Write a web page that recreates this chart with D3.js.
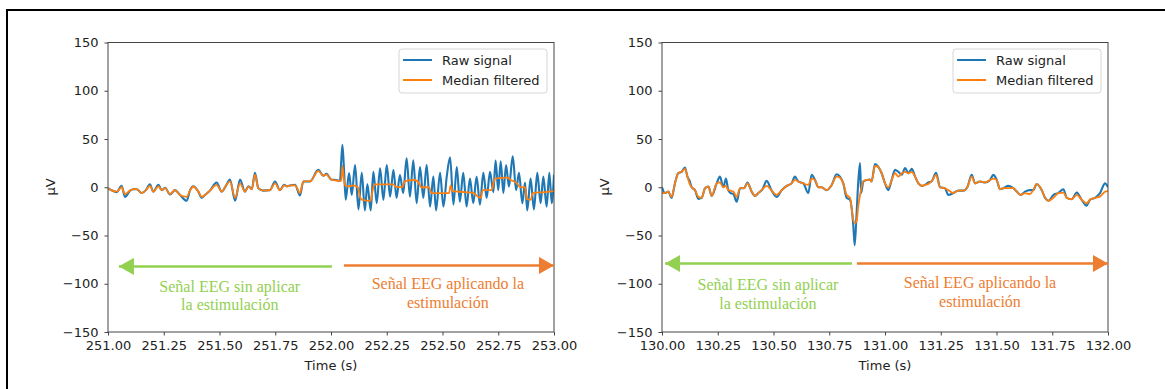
<!DOCTYPE html>
<html>
<head>
<meta charset="utf-8">
<script src="https://cdn.jsdelivr.net/npm/d3@7"></script>
<style>
  body { margin: 0; background: #fff; }
  svg { display: block; }
</style>
</head>
<body>
<div id="vis-tag"></div>
<script>
// ---- data ----
const yTicks = [-150, -100, -50, 0, 50, 100, 150];
const leftTicks = [251.00, 251.25, 251.50, 251.75, 252.00, 252.25, 252.50, 252.75, 253.00];
const rightTicks = [130.00, 130.25, 130.50, 130.75, 131.00, 131.25, 131.50, 131.75, 132.00];
const seriesNames = ["Raw signal", "Median filtered"];

// left panel, before stimulation (raw and filtered share the times)
const leftPreT = [251.000, 251.015, 251.039, 251.061, 251.076, 251.099, 251.115, 251.129, 251.151, 251.170,
  251.188, 251.203, 251.226, 251.241, 251.256, 251.278, 251.300, 251.323, 251.353, 251.368,
  251.383, 251.405, 251.420, 251.435, 251.457, 251.487, 251.510, 251.530, 251.547, 251.570,
  251.592, 251.614, 251.630, 251.645, 251.659, 251.674, 251.697, 251.726, 251.749, 251.771,
  251.790, 251.801, 251.820, 251.839, 251.861, 251.876, 251.906, 251.943, 251.965, 251.980,
  252.001, 252.024, 252.040];
const leftRawPreV = [-1, -3, -5, 1.5, -10, -3.5, -2, -2, -6, -3,
  3, -4.5, 2.5, -3, -0.5, -7.5, -3, -8, -14, -3,
  1, -4.5, -11, -8, -3.5, 5, -4.5, 2, 8, -14,
  8, -4.5, 1, -2, 15, -1, -3.5, -3, 6, -3,
  2.5, 1, 2, 2.5, -8.5, 6, 6, 18, 12, 14,
  8, 7.5, 6.5];
const leftMedPreV = [-1, -3, -4.5, 0, -7, -3.5, -2, -2, -6, -3,
  1.5, -4.5, 1, -3, -1, -7, -3, -8, -10, -3,
  0.5, -4.5, -10, -8, -3.5, 2.5, -4.5, 2, 6, -11,
  4, -4.5, 0.7, -2, 13, -1, -3.5, -3, 4, -3,
  2, 1, 2, 2, -6, 6, 6, 17, 12, 13,
  8, 7, 6.5];

// left panel, with stimulation
const leftRawPostT = [252.051, 252.058, 252.066, 252.081, 252.093, 252.108, 252.123, 252.138, 252.152, 252.163,
  252.178, 252.190, 252.205, 252.220, 252.235, 252.250, 252.265, 252.280, 252.294, 252.309,
  252.324, 252.339, 252.354, 252.369, 252.384, 252.399, 252.414, 252.429, 252.444, 252.459,
  252.471, 252.489, 252.504, 252.519, 252.534, 252.549, 252.564, 252.578, 252.593, 252.608,
  252.623, 252.638, 252.653, 252.668, 252.683, 252.698, 252.713, 252.728, 252.738, 252.750,
  252.761, 252.773, 252.785, 252.798, 252.815, 252.830, 252.843, 252.858, 252.870, 252.880,
  252.895, 252.910, 252.925, 252.940, 252.952, 252.967, 252.979, 252.990, 253.000];
const leftRawPostV = [44, 20, -13, 14.7, -8, 23, -23, 15, -24, 3.4,
  -24, 16, -16.5, 19.6, -13, 23, -9.7, 18, -11, 12.7,
  -6, 30, -9.7, 28, -16.5, 21, -11, 23, -20, 11,
  -24, 15, -20, 11, 31, -18, 21, -15, 15, -20,
  9, -16.5, 11, -18, 15, -11, 16, -5, 27.6, -3,
  27, -6, 23, 0.6, 32, -3, 15, -16.5, 5, -24,
  9, -23, 15, -16.5, 11, -20, 15, -16.5, 13];
const leftMedPostT = [252.046, 252.051, 252.058, 252.066, 252.080, 252.100, 252.120, 252.130, 252.140, 252.178,
  252.186, 252.195, 252.280, 252.290, 252.320, 252.330, 252.375, 252.395, 252.405, 252.440,
  252.450, 252.530, 252.536, 252.545, 252.600, 252.640, 252.660, 252.672, 252.680, 252.720,
  252.735, 252.790, 252.810, 252.830, 252.850, 252.870, 252.878, 252.895, 252.905, 252.960,
  253.000];
const leftMedPostV = [7, 22, 8, 1, 1, 2, 0, -10, -13, -14,
  -4, 3, 3, 0.5, 0, 6, 7.5, 4, 0, 0,
  -6, -6, 2, -4, -5, -6, -10, -11, -3, -3,
  9, 10, 7, 5, 0, 0, -12, -13, -6, -5,
  -4];

// right panel (raw and filtered share the times)
const rightT = [130.000, 130.0135, 130.028, 130.043, 130.058, 130.073, 130.088, 130.103, 130.114, 130.123,
  130.133, 130.148, 130.163, 130.178, 130.193, 130.208, 130.223, 130.245, 130.260, 130.275,
  130.287, 130.297, 130.308, 130.320, 130.335, 130.350, 130.368, 130.383, 130.402, 130.417,
  130.432, 130.451, 130.469, 130.492, 130.514, 130.537, 130.559, 130.581, 130.596, 130.611,
  130.634, 130.656, 130.671, 130.686, 130.701, 130.716, 130.738, 130.761, 130.783, 130.798,
  130.813, 130.828, 130.843, 130.858, 130.864, 130.872, 130.880, 130.888, 130.893, 130.903,
  130.918, 130.933, 130.940, 130.955, 130.970, 130.985, 131.000, 131.015, 131.030, 131.045,
  131.060, 131.075, 131.090, 131.105, 131.120, 131.135, 131.150, 131.165, 131.179, 131.194,
  131.209, 131.229, 131.247, 131.269, 131.284, 131.307, 131.329, 131.351, 131.369, 131.389,
  131.404, 131.426, 131.449, 131.471, 131.486, 131.501, 131.516, 131.531, 131.553, 131.576,
  131.591, 131.608, 131.628, 131.650, 131.665, 131.680, 131.703, 131.718, 131.733, 131.755,
  131.777, 131.800, 131.815, 131.837, 131.860, 131.882, 131.904, 131.919, 131.942, 131.964,
  131.987, 132.000];
const rightRawV = [0, -6, -4.5, -11, 4, 14.6, 16, 20.5, 11, 7,
  0, -3, -12, -11, -1, 0.7, -9, 4, 11, 0,
  9, -3, -6, -7, -15, -1, -1, 5, -4.5, -9,
  -6, -2, 6.6, -3.5, -10, -3, 1.4, 4, 11, 6,
  4, -6, 13, 7.6, 0, 0, -3, 2.4, 13.5, 11,
  4, -11, -13, -40, -60, -30, 5, 25, -6, 6,
  7.6, 8, 6, 24, 21, 14.5, 4, -3, 7.6, 18,
  16, 13, 20, 14.5, 19, 11, 4, 1.4, 2.4, 5,
  6, 15, 0, -1, -8, -6, -3.5, -3.5, 0, 13,
  4, 6, 5, 7.6, 12.8, 7.6, -2, -1, 1.4, -1,
  -4.5, -8, -4.5, -3, -3, 3.4, -3, -11, -14, -8,
  -6, -2, -11, -12.4, -5.5, -13, -19, -13, -11, -6,
  4, 0];
const rightMedV = [-6, -6, -4.5, -10, 4, 14.6, 16, 19, 11, 4,
  0, -3, -10, -11, -1, 0.7, -9, 4, 5, 0,
  1.4, -3, -3.5, -4.5, -10, -1, -1, 4, -4.5, -9,
  -6, -2, 1.4, -3.5, -8, -3, 1.4, 4, 7.6, 6,
  4, 2.4, 9, 7.6, 0, 0, -3, 2.4, 11, 10,
  4, -8, -11, -34, -37, -36, -20, -8, -2, 6,
  7.6, 8, 6, 22, 21, 14.5, 4, 0, 7.6, 14.5,
  11, 14.5, 16, 14.5, 16, 11, 4, 1.4, 2.4, 3.4,
  6, 12.8, 0, -1, -3, -6, -3.5, -3.5, 0, 11,
  4, 6, 5, 7.6, 9, 7.6, -2, -1, -1, -1,
  -4.5, -8, -6, -7, -3, 3.4, -3, -11, -14, -11,
  -6, -5.5, -11, -12.4, -8, -13, -16.5, -13, -11, -9.7,
  -4.5, -4];

// annotation arrows: [fromTime, toTime, value]
const leftGreenArrow = [252.004, 251.049, -82];
const leftOrangeArrow = [252.058, 253.000, -81];
const rightGreenArrow = [130.852, 130.014, -79];
const rightOrangeArrow = [130.874, 132.000, -79];
const greenLabel = ["Señal EEG sin aplicar", "la estimulación"];
const orangeLabel = ["Señal EEG aplicando la", "estimulación"];

// ---- drawing ----
const width = 1165;
const height = 389;
const blue = "#1f77b4";
const orange = "#ff7f0e";
const annGreen = "#92d050";
const annOrange = "#ed7d31";

d3.select("#vis-tag").selectAll("*").remove();
const svg = d3.select("#vis-tag").append("svg")
  .attr("width", width)
  .attr("height", height);

// black frame (top + left visible)
svg.append("line").attr("x1", 7).attr("y1", 10).attr("x2", width).attr("y2", 10)
  .attr("stroke", "#000").attr("stroke-width", 2);
svg.append("line").attr("x1", 7).attr("y1", 9).attr("x2", 7).attr("y2", height)
  .attr("stroke", "#000").attr("stroke-width", 2);

const defs = svg.append("defs");
[["arrGreen", annGreen], ["arrOrange", annOrange]].forEach(([id, c]) => {
  defs.append("marker")
    .attr("id", id)
    .attr("viewBox", "0 0 15 17")
    .attr("refX", 15).attr("refY", 8.5)
    .attr("markerWidth", 15).attr("markerHeight", 17)
    .attr("markerUnits", "userSpaceOnUse")
    .attr("orient", "auto")
    .append("path").attr("d", "M0,0 L15,8.5 L0,17 Z").attr("fill", c);
});

const minus = d => (d < 0 ? "\u2212" + Math.abs(d) : String(d));

function drawPanel(cfg) {
  const x = d3.scaleLinear().domain(cfg.domain).range([cfg.x0, cfg.x1]);
  const y = d3.scaleLinear().domain([-150, 150]).range([332, 42.5]);
  const g = svg.append("g");

  defs.append("clipPath").attr("id", cfg.id + "-clip")
    .append("rect").attr("x", cfg.x0).attr("y", 42.5)
    .attr("width", cfg.x1 - cfg.x0).attr("height", 332 - 42.5);

  const line = d3.line()
    .x(d => x(d[0])).y(d => y(d[1]))
    .curve(d3.curveMonotoneX);

  const plot = g.append("g").attr("clip-path", `url(#${cfg.id}-clip)`);
  plot.append("path").datum(cfg.raw)
    .attr("d", line).attr("fill", "none")
    .attr("stroke", blue).attr("stroke-width", 2.1).attr("stroke-linejoin", "round");
  plot.append("path").datum(cfg.med)
    .attr("d", line).attr("fill", "none")
    .attr("stroke", orange).attr("stroke-width", 1.8).attr("stroke-linejoin", "round");

  // axes
  const ax = g.append("g")
    .attr("transform", "translate(0,332)")
    .call(d3.axisBottom(x).tickValues(cfg.ticks).tickSize(3.5).tickPadding(5).tickFormat(d3.format(".2f")));
  const ay = g.append("g")
    .attr("transform", `translate(${cfg.x0},0)`)
    .call(d3.axisLeft(y).tickValues(yTicks).tickSize(3.5).tickPadding(6).tickFormat(minus));
  [ax, ay].forEach(a => {
    a.select(".domain").remove();
    a.selectAll("line").attr("stroke", "#444");
    a.selectAll("text").attr("font-family", "DejaVu Sans").attr("font-size", 13).attr("fill", "#222");
  });

  g.append("rect")
    .attr("x", cfg.x0).attr("y", 42.5)
    .attr("width", cfg.x1 - cfg.x0).attr("height", 332 - 42.5)
    .attr("fill", "none").attr("stroke", "#444").attr("stroke-width", 1);

  g.append("text")
    .attr("x", (cfg.x0 + cfg.x1) / 2).attr("y", 370)
    .attr("text-anchor", "middle")
    .attr("font-family", "DejaVu Sans").attr("font-size", 13).attr("fill", "#222")
    .text("Time (s)");
  g.append("text")
    .attr("transform", `translate(${cfg.x0 - 53},187) rotate(-90)`)
    .attr("text-anchor", "middle")
    .attr("font-family", "DejaVu Sans").attr("font-size", 13).attr("fill", "#222")
    .text("µV");

  // legend
  const lg = g.append("g").attr("transform", `translate(${cfg.x1 - 155},49)`);
  lg.append("rect").attr("width", 148).attr("height", 44).attr("rx", 3)
    .attr("fill", "#fff").attr("fill-opacity", 0.8)
    .attr("stroke", "#d6d6d6").attr("stroke-width", 1);
  [blue, orange].forEach((c, i) => {
    lg.append("line").attr("x1", 4).attr("x2", 33).attr("y1", 11 + i * 20).attr("y2", 11 + i * 20)
      .attr("stroke", c).attr("stroke-width", 2);
    lg.append("text").attr("x", 43).attr("y", 15.5 + i * 20)
      .attr("font-family", "DejaVu Sans").attr("font-size", 13).attr("fill", "#222")
      .text(seriesNames[i]);
  });

  // annotations
  const arrow = (a, c, id) => g.append("line")
    .attr("x1", x(a[0])).attr("x2", x(a[1])).attr("y1", y(a[2])).attr("y2", y(a[2]))
    .attr("stroke", c).attr("stroke-width", 2.5)
    .attr("marker-end", `url(#${id})`);
  arrow(cfg.greenArrow, annGreen, "arrGreen");
  arrow(cfg.orangeArrow, annOrange, "arrOrange");

  const label = (lines, cx, baseY, c) => {
    lines.forEach((s, i) => {
      g.append("text")
        .attr("x", cx).attr("y", baseY + i * 18.5)
        .attr("text-anchor", "middle")
        .attr("font-family", "Liberation Serif").attr("font-size", 16).attr("fill", c)
        .text(s);
    });
  };
  label(greenLabel, x(cfg.greenTextT), cfg.greenTextY, annGreen);
  label(orangeLabel, x(cfg.orangeTextT), cfg.orangeTextY, annOrange);
}

const zip = (t, v) => t.map((d, i) => [d, v[i]]);

drawPanel({
  id: "left", domain: [251, 253], x0: 108, x1: 554, ticks: leftTicks,
  raw: zip(leftPreT, leftRawPreV).concat(zip(leftRawPostT, leftRawPostV)),
  med: zip(leftPreT, leftMedPreV).concat(zip(leftMedPostT, leftMedPostV)),
  greenArrow: leftGreenArrow, orangeArrow: leftOrangeArrow,
  greenTextT: 251.546, greenTextY: 291.5,
  orangeTextT: 252.524, orangeTextY: 289
});
drawPanel({
  id: "right", domain: [130, 132], x0: 662, x1: 1108, ticks: rightTicks,
  raw: zip(rightT, rightRawV),
  med: zip(rightT, rightMedV),
  greenArrow: rightGreenArrow, orangeArrow: rightOrangeArrow,
  greenTextT: 130.475, greenTextY: 290,
  orangeTextT: 131.426, orangeTextY: 288
});
</script>
</body>
</html>
